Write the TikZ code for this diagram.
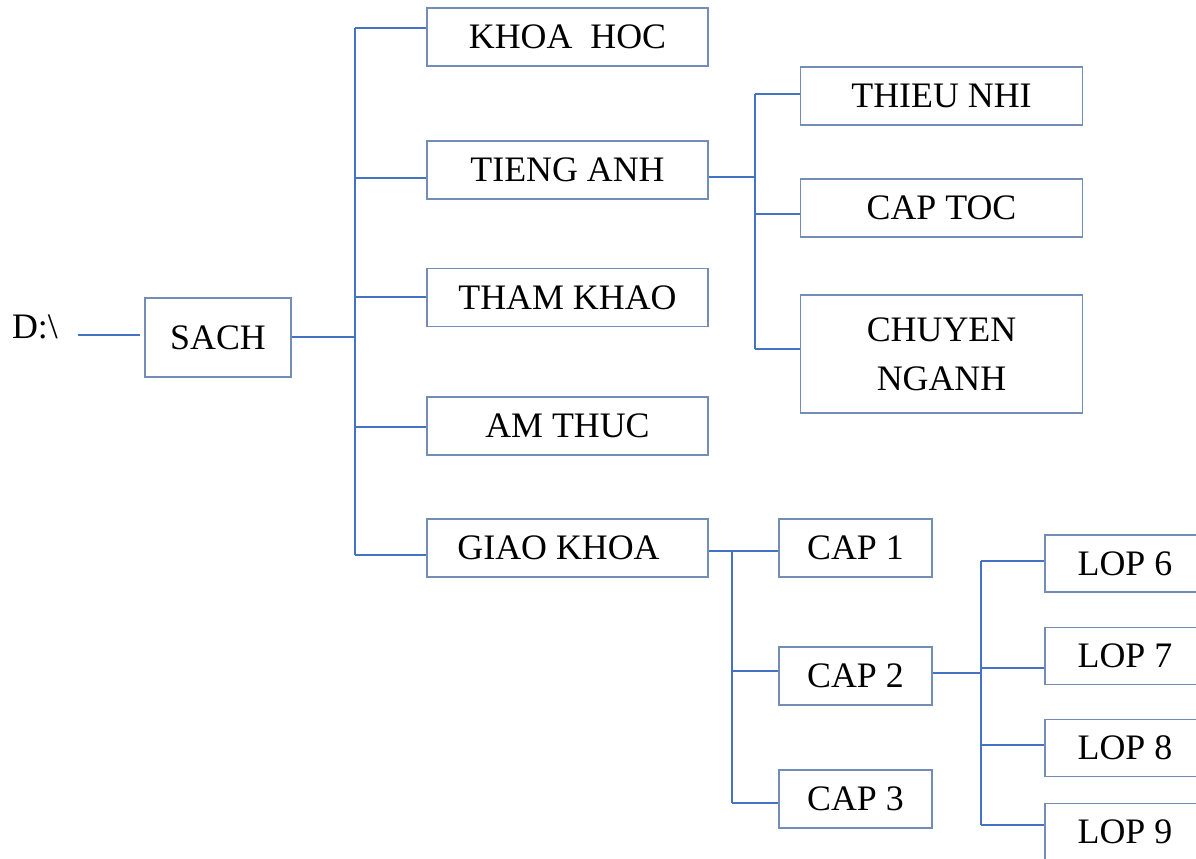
\documentclass[tikz,border=0pt]{standalone}
\usepackage{fontspec}
\setmainfont{Liberation Serif}
\usetikzlibrary{calc,positioning}
\definecolor{linkblue}{RGB}{68,114,196}
\definecolor{boxblue}{RGB}{114,142,182}
\newcommand{\pxu}{0.025cm}

\begin{document}
\begin{tikzpicture}[x=\pxu,y=-\pxu,
	folder/.style={draw=boxblue,line width=1.3pt,inner sep=0pt,minimum width=281*\pxu,minimum height=58*\pxu,font=\fontsize{25.5}{34.8}\selectfont,align=center},
	small/.style={folder,minimum width=153*\pxu},
	wide/.style={folder,minimum width=160*\pxu,minimum height=57*\pxu},
	link/.style={draw=linkblue,line width=1.4pt}]
\useasboundingbox (0,0) rectangle (1196,858);
% root
\node [inner sep=0pt,font=\fontsize{25.5}{30}\selectfont] (drive) at (35,327) {D:\textbackslash};
\node [folder,minimum width=146*\pxu,minimum height=79*\pxu] (sach) at (218,337.5) {SACH};
% level 1
\node [folder] (khoa) at (567.5,37) {KHOA\ \ HOC};
\node [folder] (tieng) at (567.5,170) {TIENG ANH};
\node [folder] (tham) at (567.5,297.5) {THAM KHAO};
\node [folder] (amthuc) at (567.5,426) {AM THUC};
\node [folder] (giao) at (567.5,548) {GIAO KHOA\ \ };
% under TIENG ANH
\node [folder,minimum width=282*\pxu] (thieu) at (941.5,96) {THIEU NHI};
\node [folder,minimum width=282*\pxu] (captoc) at (941.5,208) {CAP TOC};
\node [folder,minimum width=282*\pxu,minimum height=118*\pxu] (chuyen) at (941.5,354) {CHUYEN\\NGANH};
% under GIAO KHOA
\node [small] (cap1) at (855.5,548) {CAP 1};
\node [small] (cap2) at (855.5,676) {CAP 2};
\node [small] (cap3) at (855.5,799) {CAP 3};
% under CAP 2
\foreach \n/\y in {6/563.5,7/656,8/748,9/832}
	\node [wide] (lop\n) at (1125,\y) {LOP \n};
% joints
\coordinate (j0) at (355,337);
\coordinate (j0a) at (355,28);
\coordinate (j0b) at (355,178);
\coordinate (j0c) at (355,297);
\coordinate (j0d) at (355,427);
\coordinate (j0e) at (355,555);
\coordinate (j1) at (755,177);
\coordinate (j1a) at (755,94);
\coordinate (j1b) at (755,214);
\coordinate (j1c) at (755,349);
\coordinate (j2a) at (732,551);
\coordinate (j2b) at (732,671);
\coordinate (j2c) at (732,803);
\coordinate (j3) at (981,673);
\coordinate (j3a) at (981,561);
\coordinate (j3b) at (981,668);
\coordinate (j3c) at (981,745);
\coordinate (j3d) at (981,825);
% connectors
\draw [link] ([xshift=0.5cm]drive.east |- 0,335) -- ([xshift=-0.1cm]sach.west |- 0,335);
\draw [link] (sach.east |- j0) -- (j0);
\draw [link] (j0a) -- (j0e);
\foreach \j/\b in {j0a/khoa,j0b/tieng,j0c/tham,j0d/amthuc,j0e/giao}
	\draw [link] (\j) -- (\j -| \b.west);
\draw [link] (tieng.east |- j1) -- (j1);
\draw [link] (j1a) -- (j1c);
\foreach \j/\b in {j1a/thieu,j1b/captoc,j1c/chuyen}
	\draw [link] (\j) -- (\j -| \b.west);
\draw [link] (giao.east |- j2a) -- (j2a) -- (j2c);
\foreach \j/\b in {j2a/cap1,j2b/cap2,j2c/cap3}
	\draw [link] (\j) -- (\j -| \b.west);
\draw [link] (cap2.east |- j3) -- (j3);
\draw [link] (j3a) -- (j3d);
\foreach \j/\b in {j3a/lop6,j3b/lop7,j3c/lop8,j3d/lop9}
	\draw [link] (\j) -- (\j -| \b.west);
\end{tikzpicture}
\end{document}
